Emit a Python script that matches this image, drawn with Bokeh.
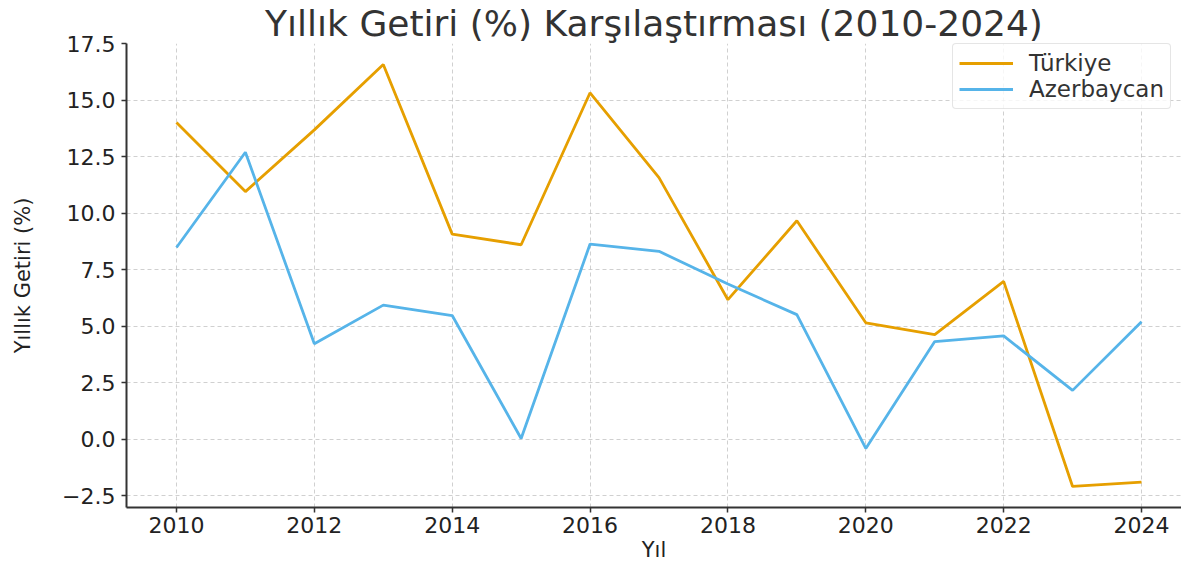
from bokeh.plotting import figure
from bokeh.models import Range1d, Legend, LegendItem, FixedTicker
from bokeh.embed import file_html
from bokeh.resources import INLINE

years = list(range(2010, 2025))
turkiye = [14.01, 10.95, 13.68, 16.57, 9.07, 8.60, 15.32, 11.57, 6.17, 9.66, 5.15, 4.63, 6.98, -2.09, -1.90]
azerbaycan = [8.48, 12.69, 4.22, 5.93, 5.47, 0.03, 8.63, 8.31, 6.86, 5.51, -0.41, 4.32, 4.57, 2.16, 5.19]
x_ticks = [2010, 2012, 2014, 2016, 2018, 2020, 2022, 2024]
y_ticks = [-2.5, 0.0, 2.5, 5.0, 7.5, 10.0, 12.5, 15.0, 17.5]

FONT = "DejaVu Sans"

p = figure(width=1181, height=564, output_backend="svg", toolbar_location=None,
           x_range=Range1d(2009.275, 2024.58), y_range=Range1d(-3.02, 17.5),
           min_border_left=126, min_border_right=0, min_border_top=42, min_border_bottom=55)

p.title.text = "Yıllık Getiri (%) Karşılaştırması (2010-2024)"
p.title.align = "center"
p.title.text_font = FONT
p.title.text_font_size = "36px"
p.title.text_font_style = "normal"
p.title.text_color = "#333333"
p.title.standoff = 0
p.title.offset = 0

l1 = p.line(years, turkiye, line_color="#E69F00", line_width=2.8)
l2 = p.line(years, azerbaycan, line_color="#56B4E9", line_width=2.8)

p.outline_line_color = None
p.background_fill_color = "white"
p.border_fill_color = "white"

for ax in (p.xaxis[0], p.yaxis[0]):
    ax.axis_line_color = "#333333"
    ax.axis_line_width = 2
    ax.major_tick_line_color = "#333333"
    ax.major_tick_line_width = 1.5
    ax.major_tick_out = 5
    ax.major_tick_in = 0
    ax.minor_tick_line_color = None
    ax.major_label_text_font = FONT
    ax.major_label_text_font_size = "22px"
    ax.major_label_text_color = "#222222"
    ax.axis_label_text_font = FONT
    ax.axis_label_text_font_size = "21px"
    ax.axis_label_text_font_style = "normal"
    ax.axis_label_text_color = "#222222"

p.xaxis.ticker = FixedTicker(ticks=x_ticks)
p.yaxis.ticker = FixedTicker(ticks=y_ticks)
p.yaxis.major_label_overrides = {v: ("−" + f"{abs(v):.1f}" if v < 0 else f"{v:.1f}") for v in y_ticks}
p.xaxis.axis_label = "Yıl"
p.yaxis.axis_label = "Yıllık Getiri (%)"
p.xaxis.axis_label_standoff = 2
p.xaxis.major_label_standoff = 4
p.yaxis.axis_label_standoff = 24
p.yaxis.major_label_standoff = 6

for g in (p.xgrid[0], p.ygrid[0]):
    g.grid_line_color = "#b0b0b0"
    g.grid_line_alpha = 0.6
    g.grid_line_dash = "4 3"
    g.grid_line_width = 1

legend = Legend(items=[LegendItem(label="Türkiye", renderers=[l1]),
                       LegendItem(label="Azerbaycan", renderers=[l2])],
                location=(826, 398))
legend.label_text_font = FONT
legend.label_text_font_size = "23px"
legend.label_text_color = "#333333"
legend.glyph_width = 54
legend.glyph_height = 22
legend.label_height = 22
legend.label_standoff = 16
legend.border_line_color = "#cccccc"
legend.border_line_width = 1.5
legend.border_radius = 4
legend.padding = 6
legend.spacing = 0
legend.margin = 0
legend.background_fill_alpha = 0.8
p.add_layout(legend, "center")

open("out.html", "w").write(file_html(p, INLINE))
